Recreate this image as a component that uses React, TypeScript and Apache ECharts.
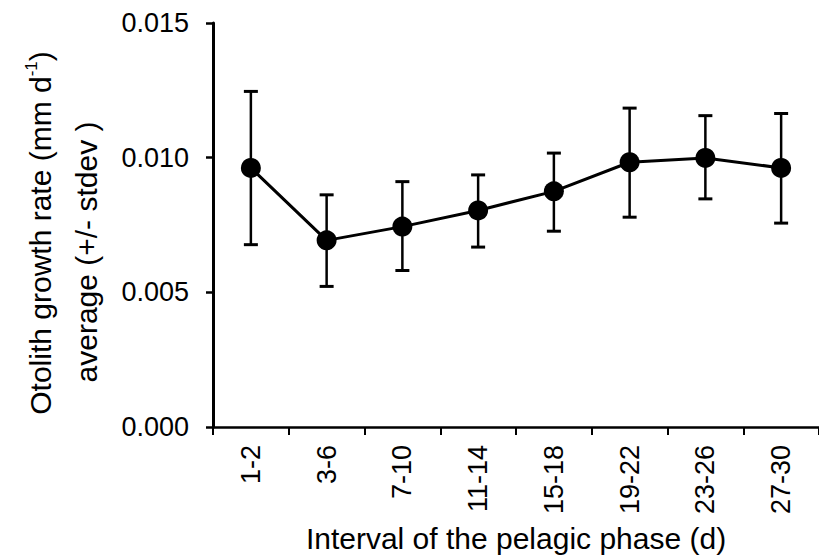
import React, { useEffect, useRef } from "react";
import * as echarts from "echarts";

const categories = ["1-2", "3-6", "7-10", "11-14", "15-18", "19-22", "23-26", "27-30"];
const means = [0.00962, 0.00693, 0.00744, 0.00804, 0.00875, 0.00983, 0.00999, 0.00962];
const upper = [0.01246, 0.00862, 0.00911, 0.00936, 0.01017, 0.01184, 0.01156, 0.01164];
const lower = [0.00677, 0.00522, 0.00581, 0.00668, 0.00727, 0.00779, 0.00847, 0.00757];

const FONT = "'Liberation Sans', Arial, Helvetica, sans-serif";

export default function App() {
  const ref = useRef<HTMLDivElement>(null);
  useEffect(() => {
    if (!ref.current) return;
    const chart = echarts.init(ref.current, undefined, { renderer: "svg" });
    const errData = categories.map((_, i) => [i, lower[i], upper[i]]);
    chart.setOption({
      animation: false,
      backgroundColor: "#ffffff",
      grid: { left: 213, right: 0, top: 23, bottom: 133, containLabel: false },
      xAxis: {
        type: "category",
        data: categories,
        boundaryGap: true,
        axisLine: { lineStyle: { color: "#000", width: 2.5 } },
        axisTick: { show: true, interval: 0, length: 8, lineStyle: { color: "#000", width: 2 } },
        axisLabel: {
          rotate: 90,
          interval: 0,
          margin: 18,
          color: "#000",
          fontSize: 27,
          fontFamily: FONT,
        },
        name: "Interval of the pelagic phase (d)",
        nameLocation: "middle",
        nameGap: 96,
        nameTextStyle: { color: "#000", fontSize: 30, fontFamily: FONT, verticalAlign: "top" },
        splitLine: { show: false },
      },
      yAxis: {
        type: "value",
        min: 0,
        max: 0.015,
        interval: 0.005,
        axisLine: { show: true, lineStyle: { color: "#000", width: 3 } },
        axisTick: { show: true, length: 7, lineStyle: { color: "#000", width: 2.5 } },
        axisLabel: {
          margin: 24,
          color: "#000",
          fontSize: 27,
          fontFamily: FONT,
          formatter: (v: number) => v.toFixed(3),
        },
        splitLine: { show: false },
      },
      graphic: [
        {
          type: "text",
          x: 40,
          y: 233,
          rotation: Math.PI / 2,
          style: {
            text: "{a|Otolith growth rate (mm d}{s|-1}{a|)}",
            align: "center",
            verticalAlign: "middle",
            fill: "#000",
            rich: {
              a: { fontSize: 30, fontFamily: FONT, fill: "#000", lineHeight: 34 },
              s: { fontSize: 17, fontFamily: FONT, fill: "#000", verticalAlign: "top", lineHeight: 34, padding: [0, 0, 14, 0] },
            },
          },
        },
        {
          type: "text",
          x: 86,
          y: 252,
          rotation: Math.PI / 2,
          style: {
            text: "average (+/- stdev )",
            align: "center",
            verticalAlign: "middle",
            fill: "#000",
            fontSize: 30,
            fontFamily: FONT,
          },
        },
      ],
      series: [
        {
          type: "custom",
          data: errData,
          z: 2,
          renderItem: (params: any, api: any) => {
            const idx = api.value(0);
            const lo = api.coord([idx, api.value(1)]);
            const hi = api.coord([idx, api.value(2)]);
            const w = 7;
            const style = { stroke: "#000", lineWidth: 2.5 };
            return {
              type: "group",
              children: [
                { type: "line", shape: { x1: lo[0], y1: lo[1], x2: hi[0], y2: hi[1] }, style },
                { type: "line", shape: { x1: hi[0] - w, y1: hi[1], x2: hi[0] + w, y2: hi[1] }, style: { stroke: "#000", lineWidth: 3 } },
                { type: "line", shape: { x1: lo[0] - w, y1: lo[1], x2: lo[0] + w, y2: lo[1] }, style: { stroke: "#000", lineWidth: 3 } },
              ],
            };
          },
        },
        {
          type: "line",
          data: means,
          z: 3,
          symbol: "circle",
          symbolSize: 20,
          itemStyle: { color: "#000" },
          lineStyle: { color: "#000", width: 3 },
        },
      ],
    });
    return () => chart.dispose();
  }, []);
  return (
    <div
      ref={ref}
      style={{ position: "absolute", left: 0, top: 0, width: 819, height: 560, background: "#fff" }}
    />
  );
}
